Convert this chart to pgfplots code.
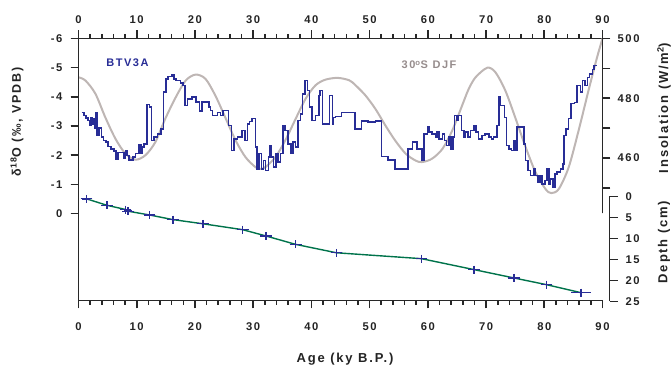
\documentclass[border=0pt]{standalone}
\usepackage{fontspec}
\setmainfont{Liberation Sans}[LetterSpace=14]
\usepackage{pgfplots}
\pgfplotsset{compat=1.18}
\definecolor{btvblue}{RGB}{40,45,150}
\definecolor{insgray}{RGB}{190,182,180}
\definecolor{insgraytext}{RGB}{150,140,140}
\definecolor{depthgreen}{RGB}{0,115,75}
\definecolor{axisc}{RGB}{40,40,40}
\definecolor{textc}{RGB}{35,35,35}

\pgfplotstableread{
age d18o
0.52 -3.47
0.92 -3.36
1.32 -3.28
1.66 -3.19
1.89 -3.02
2.12 -3.28
2.35 -3.07
2.63 -3.25
2.80 -2.94
2.92 -3.47
3.15 -2.67
3.49 -2.94
3.95 -2.62
4.29 -2.50
4.75 -2.45
5.09 -2.30
5.55 -2.22
6.12 -2.14
6.47 -1.87
6.81 -2.10
7.78 -1.91
8.07 -2.16
8.36 -1.99
8.64 -1.84
9.33 -1.93
9.79 -2.05
10.36 -2.37
10.70 -2.05
10.93 -2.28
11.28 -2.39
11.73 -3.74
12.19 -3.65
12.54 -2.50
13.00 -2.62
13.57 -2.73
14.14 -2.90
14.60 -4.16
15.05 -4.62
15.40 -4.70
16.08 -4.77
16.43 -4.62
16.77 -4.56
17.52 -4.47
17.92 -4.39
18.26 -3.70
18.72 -3.93
19.52 -3.99
20.21 -3.82
20.78 -3.51
21.24 -3.82
22.4 -3.65
22.7 -3.53
23.0 -3.36
23.9 -3.47
24.4 -3.36
24.8 -3.53
25.8 -3.02
26.3 -2.16
26.7 -2.56
27.3 -2.62
28.1 -2.85
28.6 -2.50
29.0 -3.07
29.4 -3.15
29.8 -3.25
30.4 -2.28
30.7 -1.53
31.0 -2.05
31.4 -1.53
31.8 -1.82
32.1 -1.47
32.6 -1.93
32.8 -2.33
33.1 -1.93
33.5 -1.59
33.9 -2.05
34.3 -1.76
34.7 -2.05
35.1 -3.02
35.5 -2.85
36.0 -2.39
36.5 -2.05
36.8 -2.45
37.3 -2.28
37.7 -3.19
38.1 -3.42
38.5 -4.10
38.9 -4.56
39.3 -4.21
39.7 -3.65
40.1 -3.19
40.7 -3.36
41.3 -4.05
41.5 -4.21
41.9 -3.07
43.1 -4.05
43.6 -3.07
43.8 -3.30
44.1 -3.33
45.2 -3.47
47.5 -2.90
48.6 -3.17
49.7 -3.13
51.0 -3.17
52.0 -1.95
53.2 -1.84
54.4 -1.53
56.6 -2.22
57.4 -2.45
58.1 -2.22
59.0 -1.82
59.3 -2.73
59.9 -2.98
60.2 -2.79
60.7 -2.73
61.3 -2.62
61.6 -2.79
61.9 -2.56
62.5 -2.73
62.9 -2.50
63.2 -2.33
63.6 -2.62
64.0 -2.22
64.3 -2.62
64.6 -3.36
65.0 -3.19
65.3 -3.36
65.8 -2.85
66.2 -2.62
66.5 -2.79
66.9 -2.62
67.3 -2.85
67.9 -3.02
68.3 -2.79
68.7 -2.56
69.3 -2.67
69.8 -2.73
70.5 -2.62
70.9 -2.56
71.3 -2.62
71.9 -3.02
72.2 -3.99
72.5 -3.70
73.2 -3.30
73.5 -2.33
73.9 -2.22
74.4 -2.16
74.8 -2.50
75.1 -2.16
75.3 -2.96
76.5 -2.39
76.8 -1.82
77.2 -1.47
77.6 -1.30
78.2 -1.53
78.5 -1.30
78.9 -1.07
79.3 -1.30
79.6 -1.02
80.1 -1.13
80.5 -1.53
80.8 -1.02
81.1 -1.19
81.5 -0.91
81.8 -1.36
82.2 -1.42
82.8 -1.53
83.2 -1.70
83.4 -2.67
83.7 -2.90
84.2 -3.25
84.6 -3.78
85.2 -3.81
85.6 -4.39
86.2 -4.16
86.6 -4.56
87.0 -4.39
87.4 -4.67
87.8 -4.79
88.3 -4.93
88.5 -5.07
89.1 -5.07
}\btvdata

\pgfplotstableread{
age ins
0 487.0
1.2 485.9
2.9 481.5
4.6 473.6
6.35 466.4
8.07 461.4
9.8 459.4
11.5 460.9
13.2 465.3
14.9 473.1
16.7 480.3
18.4 485.9
20.1 487.9
21.8 486.5
23.5 480.9
25.2 473.6
27.0 465.8
28.7 460.2
30.4 456.9
31.25 456.3
32.1 456.9
33.8 460.2
35.5 465.8
37.3 473.1
39.0 479.8
40.7 484.3
42.4 486.2
44.5 486.8
46.5 486.0
47.6 484.3
49.3 480.9
51.0 476.4
52.7 470.9
54.4 465.8
56.2 461.4
57.9 459.1
59.0 458.6
60.7 459.7
62.5 463.0
64.2 469.2
65.9 477.6
67.0 483.0
68.2 487.0
70.2 490.2
71.6 488.7
73.3 482.6
75.0 473.6
76.8 463.6
78.5 455.2
80.2 449.6
81.2 448.2
82.5 449.6
84.2 456.9
85.9 469.2
87.6 482.6
89.0 493.2
90.0 500.0
}\insdata

\pgfplotstableread{
age depth err
1.37 0.55 0.4
4.9 2.1 0.4
8.1 3.1 0.4
8.5 3.5 0.4
12.2 4.4 0.4
16.2 5.5 0.4
21.4 6.5 0.4
28.2 7.9 0.4
32.2 9.4 0.4
37.3 11.4 0.4
44.3 13.4 0.4
58.9 14.8 0.4
67.9 17.4 0.4
74.8 19.4 0.4
80.4 21.0 0.4
86.3 22.9 1.1
}\depthdata

\pgfplotsset{
  base/.style={
    scale only axis, anchor=south west, clip=false,
    xmin=0, xmax=90,
    tick align=outside,
    major tick length=8pt, minor tick length=4.5pt,
    axis line style={draw=axisc, line width=1.6pt},
    tick style={draw=axisc, line width=1.6pt},
    tick label style={font=\fontsize{11.2}{13}\selectfont\bfseries, text=textc, inner sep=0pt},
    /pgf/number format/assume math mode=true,
  },
  frame/.style={axisc, line width=1.6pt, no marks, forget plot},
}

\begin{document}
\begin{tikzpicture}

% frame: bottom and top x axes
\begin{axis}[base, at={(78.5pt,68.5pt)}, width=524pt, height=262pt,
  ymin=0, ymax=1, axis x line*=bottom, axis y line*=left, y axis line style={draw=none}, ytick=\empty,
  xtick={0,10,...,90}, xticklabels={0,10,20,30,40,50,60,70,80,90},
  minor x tick num=4, xticklabel style={yshift=-14pt}]
\addplot[frame] coordinates {(0,0) (90,0)};
\addplot[frame] coordinates {(0,1) (90,1)};
\pgfplotsinvokeforeach{0,10,...,90}{
  \addplot[frame] coordinates {(#1,0) (#1,-0.0305)};
  \addplot[frame] coordinates {(#1,1) (#1,1.0305)};
}
\pgfplotsinvokeforeach{2,4,6,8,12,14,16,18,22,24,26,28,32,34,36,38,42,44,46,48,52,54,56,58,62,64,66,68,72,74,76,78,82,84,86,88}{
  \addplot[frame] coordinates {(#1,0) (#1,-0.0172)};
  \addplot[frame] coordinates {(#1,1) (#1,1.0172)};
}
\end{axis}

% top x tick labels
\begin{axis}[base, at={(78.5pt,68.5pt)}, width=524pt, height=262pt,
  ymin=0, ymax=1, axis x line*=top, axis y line*=left, y axis line style={draw=none}, ytick=\empty,
  xtick={0,10,...,90}, xticklabels={0,10,20,30,40,50,60,70,80,90},
  minor x tick num=4, xticklabel style={yshift=7pt}]
\addplot[draw=none, forget plot] coordinates {(0,0.5) (90,0.5)};
\end{axis}

% insolation
\begin{axis}[base, at={(78.5pt,155.5pt)}, width=524pt, height=175pt,
  ymin=441.37, ymax=500, axis y line*=right, axis x line*=bottom, x axis line style={draw=none}, xtick=\empty,
  ytick={450,460,...,500}, yticklabels={,460,,480,,500}, yticklabel style={xshift=7pt}]
\addplot[insgray, line width=2pt, smooth, no marks] table[x=age, y=ins] {\insdata};
\addplot[frame] coordinates {(90,441.37) (90,500)};
\pgfplotsinvokeforeach{450,460,...,500}{
  \addplot[frame] coordinates {(90,#1) (91.374,#1)};
}
\end{axis}

% delta 18O
\begin{axis}[base, at={(78.5pt,68.5pt)}, width=524pt, height=262pt,
  y dir=reverse, ymin=-6, ymax=2.982, axis y line*=left, axis x line*=bottom, x axis line style={draw=none}, xtick=\empty,
  ytick={-6,-5,...,0}, yticklabels={-6,-5,-4,-3,-2,-1,0}, yticklabel style={xshift=-8pt}]
\addplot[btvblue, line width=1.5pt, const plot mark left, no marks] table[x=age, y=d18o] {\btvdata};
\addplot[frame] coordinates {(0,-6) (0,2.982)};
\pgfplotsinvokeforeach{-6,-5,...,0}{
  \addplot[frame] coordinates {(-1.374,#1) (0,#1)};
}
\end{axis}

% depth
\begin{axis}[base, at={(78.5pt,67.5pt)}, width=531pt, height=105pt, xmax=91.2,
  y dir=reverse, ymin=0, ymax=25, axis y line*=right, axis x line*=bottom, x axis line style={draw=none}, xtick=\empty,
  ytick={0,5,...,25}, yticklabel style={xshift=8pt}]
\addplot[depthgreen, line width=1.4pt, no marks] table[x=age, y=depth] {\depthdata};
\addplot[btvblue, only marks, mark=+, mark size=4pt, mark options={line width=1.4pt},
  error bars/.cd, x dir=both, x explicit,
  error bar style={btvblue, line width=1.2pt},
  error mark options={btvblue, mark size=3.5pt, line width=1.2pt}]
  table[x=age, y=depth, x error=err] {\depthdata};
\addplot[frame] coordinates {(91.2,0) (91.2,25)};
\pgfplotsinvokeforeach{0,5,...,25}{
  \addplot[frame] coordinates {(91.2,#1) (92.574,#1)};
}
\end{axis}

\node[rotate=90, font=\fontsize{12.5}{15}\selectfont\bfseries, text=textc] at (17pt,247pt) {δ\textsuperscript{18}O (‰, VPDB)};
\node[rotate=90, font=\fontsize{13}{15}\selectfont\bfseries, text=textc] at (664pt,261pt) {Insolation (W/m\textsuperscript{2})};
\node[rotate=90, font=\fontsize{13}{15}\selectfont\bfseries, text=textc] at (664pt,127pt) {Depth (cm)};
\node[font=\fontsize{13}{15}\selectfont\bfseries, text=textc] at (345pt,10pt) {Age (ky B.P.)};
\node[font=\fontsize{11}{13}\selectfont\bfseries, text=btvblue] at (127.5pt,306pt) {BTV3A};
\node[font=\fontsize{11}{13}\selectfont\bfseries, text=insgraytext] at (429pt,304pt) {30\textsuperscript{o}S DJF};

\pgfresetboundingbox
\path[use as bounding box] (0,0) rectangle (672pt,369pt);
\end{tikzpicture}
\end{document}
